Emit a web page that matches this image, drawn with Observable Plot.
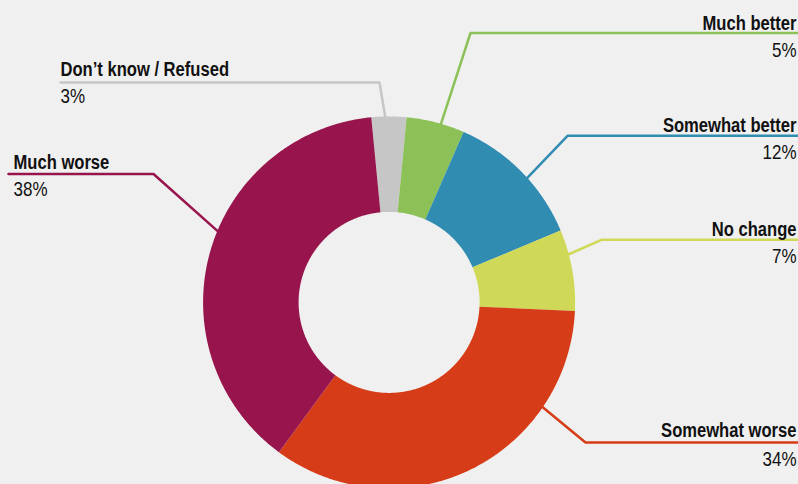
<!DOCTYPE html>
<html><head><meta charset="utf-8">
<script src="https://cdn.jsdelivr.net/npm/d3@7"></script>
<script src="https://cdn.jsdelivr.net/npm/@observablehq/plot@0.6"></script>
<style>html,body{margin:0;padding:0;background:#f0f0f0;overflow:hidden}</style>
</head><body><div id="chart"></div>
<script>
// ---- data ----
const categories = ["Don’t know / Refused","Much better","Somewhat better","No change","Somewhat worse","Much worse"];
const values = [3,5,12,7,34,38];
const valueLabels = ["3%","5%","12%","7%","34%","38%"];

// ---- styles ----
const colors = ["#c6c6c6","#8cc158","#318cb1","#cfd957","#d63c17","#97144c"];
const FONT = "'Liberation Sans',Arial,sans-serif";
const NARROW_BOLD = 0.79, NARROW_REG = 0.85; // horizontal condensation to mimic a condensed face

// ---- layout (pixels) ----
const W = 798, H = 484, CX = 388.6, CY = 301.9, R = 186, R_IN = 90.5;
const START_DEG = -5.5;
const labelSide = ["left","right","right","right","right","left"];
const leaderAngleDeg = [-1.2,16.2,48,75,124.3,292.6];
const elbowPx = [[379,82],[470,32.5],[567,135.3],[601,239.3],[585,442],[153,173.5]];
const lineEndPx = [60,797,797,797,797,8];
const labelXPx = [60,796,796,796,796,13];
const labelBasePx = [75,29,131.7,235,436.7,168];
const pctBasePx = [102,56,158.3,262.7,465,195];

const ux = p => (p - CX) / R, uy = p => (CY - p) / R;
const rad = d => d * Math.PI / 180;

const arcs = d3.pie().sort(null).startAngle(rad(START_DEG)).endAngle(rad(START_DEG + 360))(values);
const inner = R_IN / R;
const sliceRows = [];
arcs.forEach((a, i) => {
  const n = Math.max(2, Math.ceil((a.endAngle - a.startAngle) / rad(0.5)));
  const ang = k => a.startAngle + (a.endAngle - a.startAngle) * k / n;
  for (let k = 0; k <= n; k++) sliceRows.push({category: categories[i], x: Math.sin(ang(k)), y: Math.cos(ang(k))});
  for (let k = n; k >= 0; k--) sliceRows.push({category: categories[i], x: inner * Math.sin(ang(k)), y: inner * Math.cos(ang(k))});
});

const leaderRows = [];
categories.forEach((c, i) => {
  const t = rad(leaderAngleDeg[i]);
  leaderRows.push({category: c, x: Math.sin(t), y: Math.cos(t)});
  leaderRows.push({category: c, x: ux(elbowPx[i][0]), y: uy(elbowPx[i][1])});
  leaderRows.push({category: c, x: ux(lineEndPx[i]), y: uy(elbowPx[i][1])});
});

const labelRows = categories.map((c, i) => ({category: c, side: labelSide[i], x: ux(labelXPx[i]), y: uy(labelBasePx[i]), text: c}));
const pctRows = categories.map((c, i) => ({category: c, side: labelSide[i], x: ux(labelXPx[i]), y: uy(pctBasePx[i]), text: valueLabels[i]}));

const textOpts = (side, weight, size, cls) => ({
  x: "x", y: "y", text: "text", filter: d => d.side === side,
  textAnchor: side === "right" ? "end" : "start", lineAnchor: "bottom",
  fontFamily: FONT, fontSize: size, fontWeight: weight, fill: "#111", className: cls
});

const chart = Plot.plot({
  width: W, height: H, margin: 0,
  style: {background: "#f0f0f0", overflow: "visible"},
  x: {domain: [-1, 1], range: [CX - R, CX + R], axis: null},
  y: {domain: [-1, 1], range: [CY + R, CY - R], axis: null},
  color: {domain: categories, range: colors},
  marks: [
    Plot.line(sliceRows, {x: "x", y: "y", z: "category", fill: "category", stroke: "none"}),
    Plot.line(leaderRows, {x: "x", y: "y", z: "category", stroke: "category", strokeWidth: 2.5, strokeLinejoin: "miter"}),
    Plot.text(labelRows, textOpts("right", "bold", 21, "lbl-bold")),
    Plot.text(labelRows, textOpts("left", "bold", 21, "lbl-bold")),
    Plot.text(pctRows, textOpts("right", "normal", 20, "lbl-reg")),
    Plot.text(pctRows, textOpts("left", "normal", 20, "lbl-reg"))
  ]
});
// condense the text horizontally about its anchor point
const condense = (sel, k) => chart.querySelectorAll(sel).forEach(t => {
  const x = +(t.getAttribute("x") || 0);
  const tr = t.getAttribute("transform") || "";
  if (x) { t.removeAttribute("x"); t.setAttribute("transform", `${tr} translate(${x},0) scale(${k},1)`); }
  else t.setAttribute("transform", `${tr} scale(${k},1)`);
});
condense("g.lbl-bold text", NARROW_BOLD);
condense("g.lbl-reg text", NARROW_REG);
document.getElementById("chart").appendChild(chart);
</script></body></html>
